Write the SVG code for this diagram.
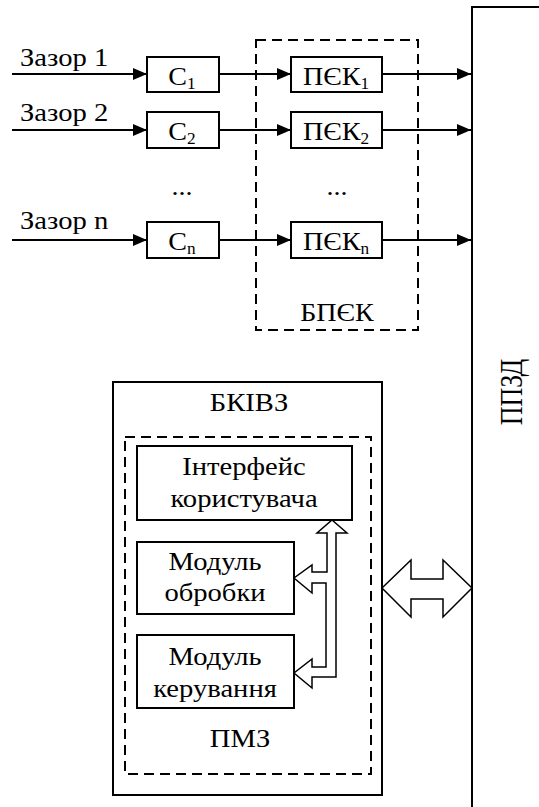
<svg xmlns="http://www.w3.org/2000/svg" width="539" height="807" viewBox="0 0 539 807">
<style>
text{font-family:"Liberation Serif","Times New Roman","DejaVu Serif",serif;font-size:26px;fill:#000}
.c{text-anchor:middle}
.sub{font-size:16px}
.box{fill:#fff;stroke:#000;stroke-width:2}
.dash{fill:none;stroke:#000;stroke-width:2;stroke-dasharray:10 6}
.ln{fill:none;stroke:#000;stroke-width:1.8}
.hol{fill:#fff;stroke:#000;stroke-width:1.5;stroke-linejoin:miter}
</style>
<defs>
<marker id="ah" markerWidth="14" markerHeight="12" refX="14" refY="6" orient="auto" markerUnits="userSpaceOnUse">
<path d="M0,0 L14,6 L0,12 Z" fill="#000"/>
</marker>
</defs>
<rect width="539" height="807" fill="#fff"/>
<g font-family="Liberation Serif, Times New Roman, serif">

<g id="ppzd">
<path class="box" d="M545,7 L472,7 L472,815"/>
<text class="c" font-size="17" transform="translate(522,392) rotate(-90) scale(1,1.22)">ППЗД</text>
</g>

<g id="bpek">
<rect class="dash" x="256" y="40" width="162" height="290"/>
<text class="c" transform="translate(337,321) scale(1.08,1)">БПЄК</text>
<text class="c" transform="translate(337,195) scale(1.08,1)">...</text>
</g>

<g id="c1"><rect class="box" x="147" y="57" width="72" height="35"/><text class="c" transform="translate(182,85) scale(1.08,1)">C<tspan class="sub" dy="4">1</tspan></text></g>
<g id="c2"><rect class="box" x="147" y="112" width="72" height="36"/><text class="c" transform="translate(182,140) scale(1.08,1)">C<tspan class="sub" dy="4">2</tspan></text></g>
<g id="cn"><rect class="box" x="147" y="222" width="72" height="36"/><text class="c" transform="translate(182,250) scale(1.08,1)">C<tspan class="sub" dy="4">n</tspan></text></g>
<text class="c" transform="translate(182,195) scale(1.08,1)">...</text>

<g id="pek1"><rect class="box" x="291" y="57" width="91" height="35"/><text class="c" transform="translate(336,85) scale(1.08,1)">ПЄК<tspan class="sub" dy="4">1</tspan></text></g>
<g id="pek2"><rect class="box" x="291" y="112" width="91" height="36"/><text class="c" transform="translate(336,140) scale(1.08,1)">ПЄК<tspan class="sub" dy="4">2</tspan></text></g>
<g id="pekn"><rect class="box" x="291" y="222" width="91" height="36"/><text class="c" transform="translate(336,250) scale(1.08,1)">ПЄК<tspan class="sub" dy="4">n</tspan></text></g>

<text transform="translate(20,66) scale(1.1,1)">Зазор 1</text>
<text transform="translate(20,121) scale(1.1,1)">Зазор 2</text>
<text transform="translate(20,229) scale(1.1,1)">Зазор n</text>

<g id="bkivz">
<rect class="box" x="113" y="382" width="269" height="413"/>
<text class="c" transform="translate(249,411) scale(1.1,1)">БКІВЗ</text>
</g>
<g id="pmz">
<rect class="dash" x="125" y="437" width="246" height="337"/>
<text class="c" transform="translate(240,747) scale(1.1,1)">ПМЗ</text>
</g>
<g id="interface">
<rect class="box" x="137" y="446" width="215" height="74"/>
<text class="c" transform="translate(244,475) scale(1.1,1)">Інтерфейс</text>
<text class="c" transform="translate(244,507) scale(1.1,1)">користувача</text>
</g>
<g id="obrobka">
<rect class="box" x="137" y="542" width="157" height="72"/>
<text class="c" transform="translate(215,570) scale(1.1,1)">Модуль</text>
<text class="c" transform="translate(215,601) scale(1.1,1)">обробки</text>
</g>
<g id="keruvannia">
<rect class="box" x="137" y="635" width="157" height="73"/>
<text class="c" transform="translate(215,665) scale(1.1,1)">Модуль</text>
<text class="c" transform="translate(215,697) scale(1.1,1)">керування</text>
</g>
</g>

<g id="connectors">
<line class="ln" x1="12" y1="74" x2="147" y2="74" marker-end="url(#ah)"/>
<line class="ln" x1="12" y1="130" x2="147" y2="130" marker-end="url(#ah)"/>
<line class="ln" x1="12" y1="240" x2="147" y2="240" marker-end="url(#ah)"/>
<line class="ln" x1="219" y1="74" x2="291" y2="74" marker-end="url(#ah)"/>
<line class="ln" x1="219" y1="130" x2="291" y2="130" marker-end="url(#ah)"/>
<line class="ln" x1="219" y1="240" x2="291" y2="240" marker-end="url(#ah)"/>
<line class="ln" x1="382" y1="74" x2="471" y2="74" marker-end="url(#ah)"/>
<line class="ln" x1="382" y1="130" x2="471" y2="130" marker-end="url(#ah)"/>
<line class="ln" x1="382" y1="240" x2="471" y2="240" marker-end="url(#ah)"/>
<polygon class="hol" points="332,520 347,533 336,533 336,677 312,677 312,688 294,673 312,659 312,667 326,667 326,583 312,583 312,593 294,578 312,565 312,572 327,572 327,533 317,533"/>
<polygon class="hol" points="382,588 411,560 411,579 443,579 443,560 472,588 443,617 443,599 411,599 411,617"/>
</g>
</svg>
